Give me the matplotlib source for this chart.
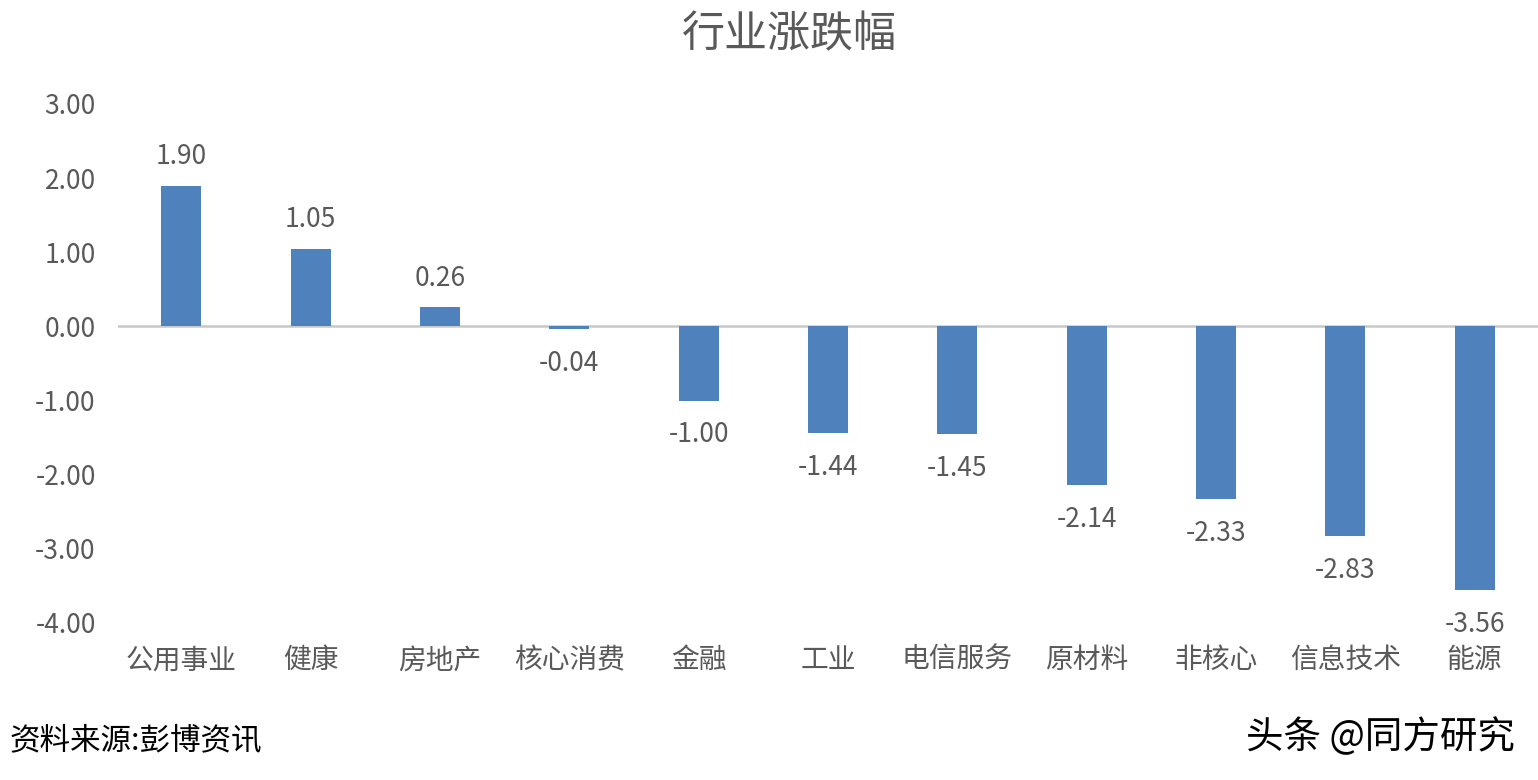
import matplotlib
matplotlib.use('Agg')
import matplotlib.pyplot as plt
import numpy as np

plt.rcParams['font.family'] = ['Noto Sans CJK SC', 'DejaVu Sans']

categories = ['公用事业', '健康', '房地产', '核心消费', '金融', '工业',
              '电信服务', '原材料', '非核心', '信息技术', '能源']
values = [1.90, 1.05, 0.26, -0.04, -1.00, -1.44, -1.45, -2.14, -2.33, -2.83, -3.56]
yticks = [3, 2, 1, 0, -1, -2, -3, -4]

bar_color = '#4F81BD'
text_color = '#595959'

fig = plt.figure(figsize=(15.38, 7.8), dpi=100)
ax = fig.add_axes([0.0767, 0.2013, 0.9233, 0.6654])

x = np.arange(len(categories))
ax.bar(x, values, width=0.31, color=bar_color, zorder=2)
ax.axhline(0, color='#C8C8C8', linewidth=1.8, zorder=1)

for xi, v in zip(x, values):
    if v >= 0:
        ax.annotate(f'{v:.2f}', (xi, v), xytext=(0, 11), textcoords='offset points',
                    ha='center', va='bottom', fontsize=19, color=text_color)
    else:
        ax.annotate(f'{v:.2f}', (xi, v), xytext=(0, -15), textcoords='offset points',
                    ha='center', va='top', fontsize=19, color=text_color)

ax.set_xlim(-0.49, 10.49)
ax.set_ylim(-4, 3)
ax.set_yticks(yticks)
ax.set_yticklabels([f'{t:.2f}' for t in yticks])
ax.set_xticks(x)
ax.set_xticklabels(categories)
ax.tick_params(axis='both', length=0, labelsize=19, labelcolor=text_color)
ax.tick_params(axis='x', labelsize=20)
ax.tick_params(axis='y', pad=16)
ax.tick_params(axis='x', pad=16)
for s in ax.spines.values():
    s.set_visible(False)

fig.text(0.513, 0.955, '行业涨跌幅', ha='center', va='center',
         fontsize=31, color=text_color)
fig.text(0.006, 0.051, '资料来源:彭博资讯', ha='left', va='center',
         fontsize=22, color='black', style='italic')
fig.text(0.985, 0.054, '头条 @同方研究', ha='right', va='center',
         fontsize=27, color='black')

fig.savefig('out.png', dpi=100)
